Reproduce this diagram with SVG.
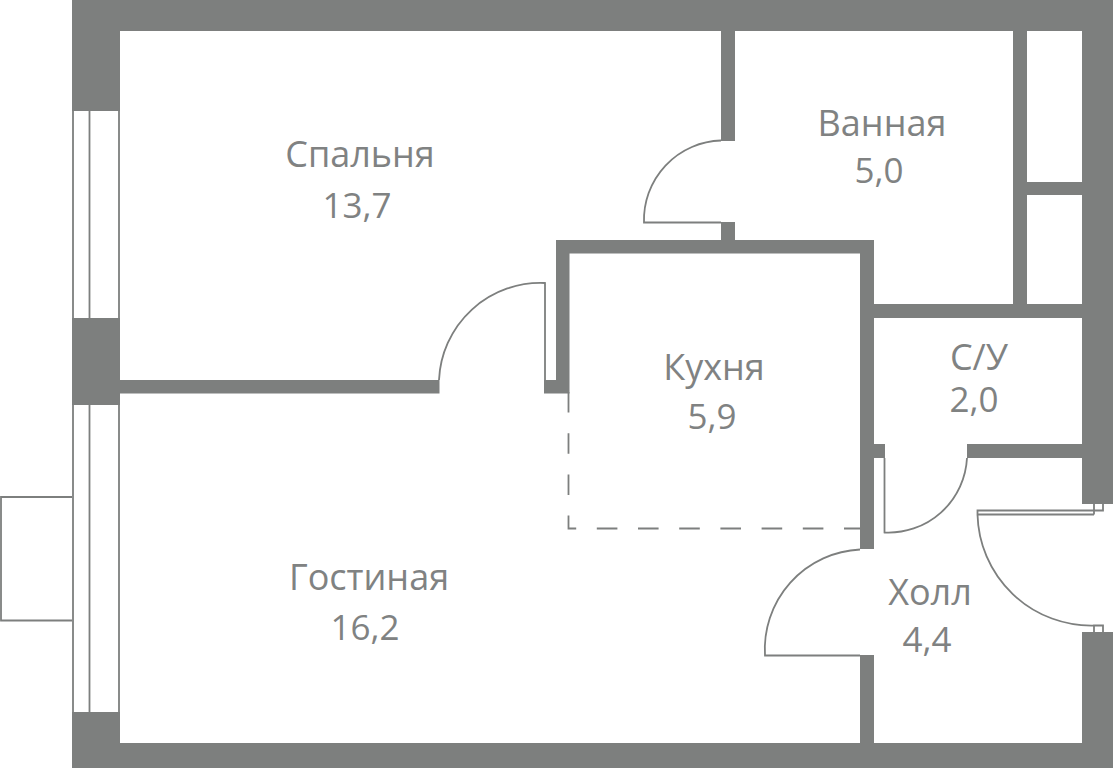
<svg xmlns="http://www.w3.org/2000/svg" width="1113" height="768" viewBox="0 0 1113 768">
<style>
.w{fill:#7d7f7e}
.l{fill:none;stroke:#7d7f7e;stroke-width:1.8}
.d{fill:none;stroke:#7d7f7e;stroke-width:1.8;stroke-dasharray:20.600 20.600}
text{font-family:"Open Sans","Noto Sans","Liberation Sans",sans-serif;font-size:36px;fill:#808282;text-anchor:middle}
text.n{font-size:35px}
</style>
<rect width="1113" height="768" fill="#fff"/>
<g id="balcony"><path class="l" d="M72 497H1V620.500H72"/></g>
<g id="windows">
<path class="l" d="M73 111V318M89.500 111V318M119 111V318M73 405V712M89.500 405V712M119 405V712"/>
</g>
<g id="walls">
<path class="w" d="M72 0H1113V504H1082V31H120V111H72Z"/>
<rect class="w" x="72" y="318" width="48" height="87"/>
<path class="w" d="M72 712H120V743H1082V632H1113V768H72Z"/>
<rect class="w" x="120" y="380" width="319.500" height="13.500"/>
<path class="w" d="M544 380H556V240H874V304H1013V31H1027V182H1082V195H1027V304H1082V318H874V444H885V458H874V549H860V253.500H569.500V393.500H544Z"/>
<rect class="w" x="721" y="31" width="14" height="110"/>
<rect class="w" x="721" y="222" width="14" height="18"/>
<rect class="w" x="967" y="444" width="115" height="14"/>
<rect class="w" x="860" y="655" width="14" height="88"/>
</g>
<g id="doors">
<path class="l" d="M721 140.500A79.500 79.500 0 0 0 644 222.500H721"/>
<path class="l" d="M545 380V283A101.600 101.600 0 0 0 439 380"/>
<path class="l" d="M884.500 458V532.500A78.600 78.600 0 0 0 967 458"/>
<path class="l" d="M860 549.500A100 100 0 0 0 765 655.500H860"/>
<path class="l" d="M1094 514.500H977.500V510.500H1103V504M1094 514.500V504M977.500 514.500A113.800 113.800 0 0 0 1094 625.500M1094 632V625.500H1103V632"/>
</g>
<g id="kitchen-zone">
<path class="d" d="M568.500 392V528.500H860"/>
</g>
<g id="labels">
<text x="360" y="167">Спальня</text>
<text class="n" x="357" y="218">13,7</text>
<text x="882" y="136">Ванная</text>
<text class="n" x="879" y="183">5,0</text>
<text x="714" y="380">Кухня</text>
<text class="n" x="712" y="429">5,9</text>
<text x="979" y="370">С/У</text>
<text class="n" x="974" y="412">2,0</text>
<text x="369" y="590">Гостиная</text>
<text class="n" x="365" y="640">16,2</text>
<text x="930" y="605">Холл</text>
<text class="n" x="927" y="652">4,4</text>
</g>
</svg>
